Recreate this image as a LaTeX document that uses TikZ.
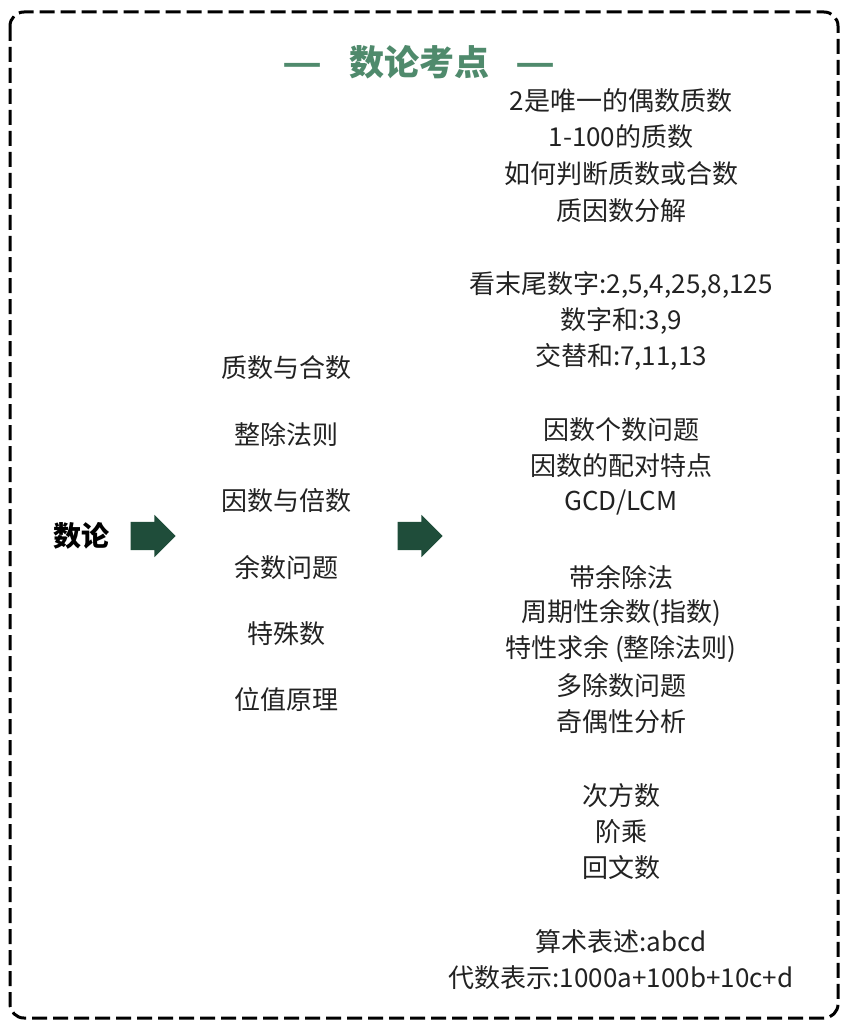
\documentclass[tikz,border=0pt]{standalone}
\usepackage{fontspec}
\setmainfont{Noto Sans CJK SC}
\usepackage{tikz}
\usetikzlibrary{shapes.arrows}

\definecolor{titlegreen}{HTML}{4F8A6C}
\definecolor{arrowgreen}{HTML}{1F4D3A}
\definecolor{textgrey}{HTML}{222222}

\tikzset{
  item/.style={text=textgrey, font=\fontsize{26}{30}\selectfont, inner sep=0pt, anchor=center},
  bigarrow/.style={single arrow, fill=arrowgreen, draw=none, inner sep=14pt,
    single arrow head extend=7pt, single arrow head indent=0pt, minimum height=45pt},
}

\begin{document}
\begin{tikzpicture}[x=1pt,y=-1pt]
  \useasboundingbox (0,0) rectangle (847,1024);
  \draw[line width=3pt, dash pattern=on 15pt off 6pt, rounded corners=14pt] (10,12) rectangle (838,1018);
  \node[text=titlegreen, font=\fontsize{35}{40}\selectfont\bfseries] (title) at (419,62)
    {\scalebox{1.25}[1]{—}\hspace{26pt}数论考点\hspace{26pt}\scalebox{1.25}[1]{—}};
  \node[font=\fontsize{28}{32}\selectfont\bfseries, inner sep=0pt] (root) at (81,536) {数论};
  \node[bigarrow] (arr1) at (146,536) {};
  \node[bigarrow] (arr2) at (413,536) {};
  % middle column
  \node[item] (m1) at (286,368) {质数与合数};
  \node[item] (m2) at (286,435) {整除法则};
  \node[item] (m3) at (286,501) {因数与倍数};
  \node[item] (m4) at (286,568) {余数问题};
  \node[item] (m5) at (286,634) {特殊数};
  \node[item] (m6) at (286,700) {位值原理};
  % right column
  \node[item] (r1) at (621,101) {2是唯一的偶数质数};
  \node[item] (r2) at (621,137) {1-100的质数};
  \node[item] (r3) at (621,174) {如何判断质数或合数};
  \node[item] (r4) at (621,211) {质因数分解};
  \node[item] (r5) at (621,285) {看末尾数字:2,5,4,25,8,125};
  \node[item] (r6) at (621,321) {数字和:3,9};
  \node[item] (r7) at (621,357) {交替和:7,11,13};
  \node[item] (r8) at (621,430) {因数个数问题};
  \node[item] (r9) at (621,466) {因数的配对特点};
  \node[item] (r10) at (621,503) {GCD/LCM};
  \node[item] (r11) at (621,577) {带余除法};
  \node[item] (r12) at (621,613) {周期性余数(指数)};
  \node[item] (r13) at (621,649) {特性求余 (整除法则)};
  \node[item] (r14) at (621,686) {多除数问题};
  \node[item] (r15) at (621,722) {奇偶性分析};
  \node[item] (r16) at (621,796) {次方数};
  \node[item] (r17) at (621,832) {阶乘};
  \node[item] (r18) at (621,868) {回文数};
  \node[item] (r19) at (621,942) {算术表述:abcd};
  \node[item] (r20) at (621,978) {代数表示:1000a+100b+10c+d};
\end{tikzpicture}
\end{document}
